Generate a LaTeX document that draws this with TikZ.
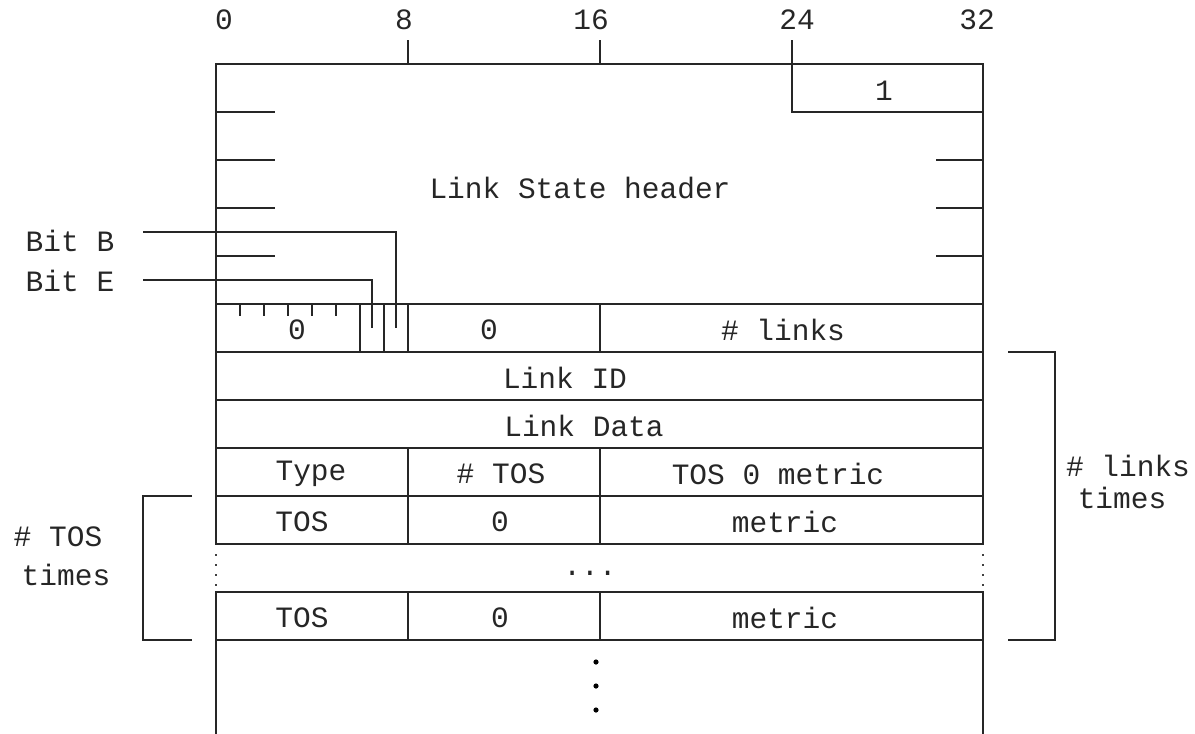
\documentclass[tikz,border=0pt]{standalone}
\usepackage{fontspec}
\setmainfont{Liberation Mono}
\begin{document}
\begin{tikzpicture}[x=1pt,y=-1pt,
  ln/.style={line width=1.6pt,color=black!85},
  dotln/.style={line width=2pt,color=black!75,dash pattern=on 2pt off 8pt},
  lbl/.style={inner sep=0pt,font=\fontsize{29.5}{32}\selectfont,text=black!85},
  dotpt/.style={fill=black,draw=none}]
\useasboundingbox (0,0) rectangle (1195,734);
% bit scale labels
\node[lbl] (b0) at (224,20) {0};
\node[lbl] (b8) at (404,20) {8};
\node[lbl] (b16) at (591,20) {16};
\node[lbl] (b24) at (797,20) {24};
\node[lbl] (b32) at (977,20) {32};
% ticks
\draw[ln] (408,40) -- (408,64);
\draw[ln] (600,40) -- (600,64);
\draw[ln] (792,40) -- (792,112) -- (983,112);
% outer frame
\draw[ln] (216,734) -- (216,64) -- (983,64) -- (983,734);
\draw[dotln] (216,554) -- (216,587);
\draw[dotln] (983,554) -- (983,587);
\draw[line width=3pt,white] (216,545) -- (216,591);
\draw[line width=3pt,white] (983,545) -- (983,591);
\draw[dotln] (216,554) -- (216,587);
\draw[dotln] (983,554) -- (983,587);
% header stubs
\foreach \y in {112,160,208,256} \draw[ln] (216,\y) -- (275,\y);
\foreach \y in {160,208,256} \draw[ln] (936,\y) -- (983,\y);
% row lines
\foreach \y in {304,352,400,448,496,544,592,640} \draw[ln] (216,\y) -- (983,\y);
% first row columns
\foreach \x in {360,384,408,600} \draw[ln] (\x,304) -- (\x,352);
\foreach \x in {240,264,288,312,336} \draw[ln] (\x,304) -- (\x,316);
% column lines in TOS rows
\foreach \x in {408,600} {
  \draw[ln] (\x,448) -- (\x,544);
  \draw[ln] (\x,592) -- (\x,640);
}
% bit B / E leaders
\node[lbl] (bitb) at (70,241) {Bit B};
\node[lbl] (bite) at (70,281) {Bit E};
\draw[ln] (143,232) -- (396,232) -- (396,328);
\draw[ln] (143,280) -- (372,280) -- (372,328);
% texts
\node[lbl] (one) at (884,91) {1};
\node[lbl] (lsh) at (580,188) {Link State header};
\node[lbl] (z1) at (297,330) {0};
\node[lbl] (z2) at (489,330) {0};
\node[lbl] (nl) at (783,330) {\# links};
\node[lbl] (lid) at (565,378) {Link ID};
\node[lbl] (ldata) at (584,426) {Link Data};
\node[lbl] (type) at (311,474) {Type};
\node[lbl] (ntos) at (501,474) {\# TOS};
\node[lbl] (tos0) at (778,474) {TOS 0 metric};
\node[lbl] (tos1) at (302,522) {TOS};
\node[lbl] (zz1) at (500,522) {0};
\node[lbl] (m1) at (785,522) {metric};
\node[lbl] (ell) at (590,573) {...};
\node[lbl] (tos2) at (302,618) {TOS};
\node[lbl] (zz2) at (500,618) {0};
\node[lbl] (m2) at (785,618) {metric};
% bottom dots
\foreach \y in {662,686,710} \fill[dotpt] (596,\y) circle (2.6pt);
% brackets
\draw[ln] (192,496) -- (143,496) -- (143,640) -- (192,640);
\node[lbl] (tost1) at (58,537) {\# TOS};
\node[lbl] (tost2) at (66,575) {times};
\draw[ln] (1008,352) -- (1055,352) -- (1055,640) -- (1008,640);
\node[lbl] (lt1) at (1128,466) {\# links};
\node[lbl] (lt2) at (1122,498) {times};
\end{tikzpicture}
\end{document}
